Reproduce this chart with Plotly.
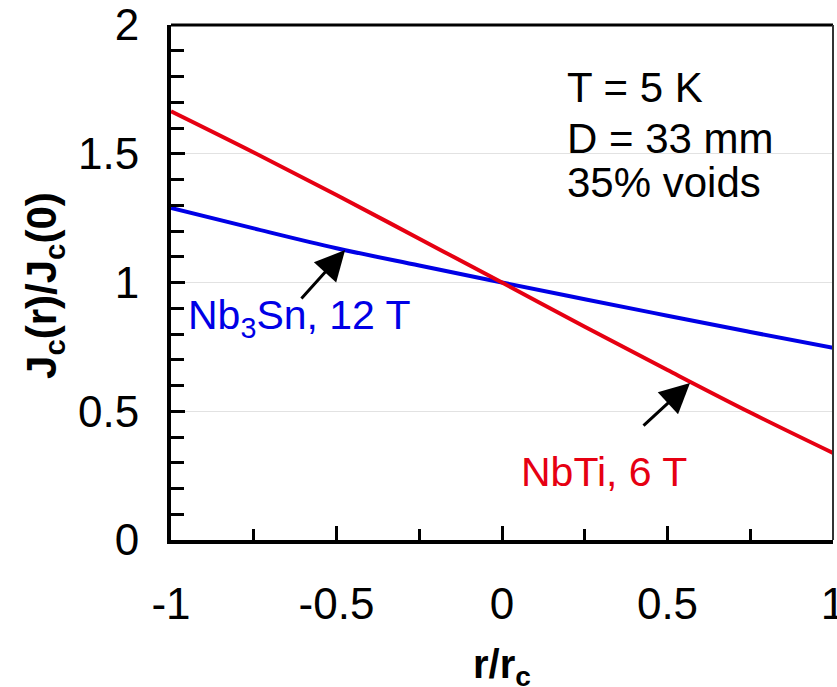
import plotly.graph_objects as go

r = [-1.0, -0.75, -0.5, -0.25, 0.0, 0.25, 0.5, 0.75, 1.0]
nbti_6T = [1.665, 1.505, 1.34, 1.17, 1.0, 0.828, 0.66, 0.495, 0.338]
nb3sn_12T = [1.29, 1.21, 1.133, 1.066, 1.0, 0.935, 0.871, 0.808, 0.746]

x_ticks = [-1, -0.5, 0, 0.5, 1]
x_ticklabels = ["-1", "-0.5", "0", "0.5", "1"]
y_ticks = [0, 0.5, 1, 1.5, 2]
y_ticklabels = ["0", "0.5", "1", "1.5", "2"]
info_lines = ["T = 5 K", "D = 33 mm", "35% voids"]

RED = "#e60012"
BLUE = "#0000e6"
FONT = "Liberation Sans, Arial, sans-serif"

fig = go.Figure()
fig.add_trace(go.Scatter(x=r, y=nb3sn_12T, mode="lines", line=dict(color=BLUE, width=4, shape="spline", smoothing=1),
                         showlegend=False))
fig.add_trace(go.Scatter(x=r, y=nbti_6T, mode="lines", line=dict(color=RED, width=4, shape="spline", smoothing=1),
                         showlegend=False))

fig.update_layout(
    width=837, height=687,
    margin=dict(l=171, r=4, t=25, b=147, autoexpand=False),
    paper_bgcolor="white", plot_bgcolor="white",
    font=dict(family=FONT, color="black"),
    showlegend=False,
)
fig.update_xaxes(
    range=[-1, 1], tickvals=x_ticks, ticktext=x_ticklabels, automargin=False,
    ticklabeloverflow="allow",
    showline=True, linecolor="black", linewidth=4,
    ticks="inside", ticklen=14, tickwidth=3, tickcolor="black",
    minor=dict(dtick=0.25, tick0=-1, ticks="inside", ticklen=11, tickwidth=3, tickcolor="black", showgrid=False),
    showgrid=False, zeroline=False,
    tickfont=dict(size=44, family=FONT), ticklabelstandoff=22,
)
fig.update_yaxes(
    range=[0, 2], tickvals=y_ticks, ticktext=y_ticklabels, automargin=False,
    ticklabeloverflow="allow",
    showline=True, linecolor="black", linewidth=4,
    ticks="inside", ticklen=14, tickwidth=3, tickcolor="black",
    minor=dict(dtick=0.1, tick0=0, ticks="inside", ticklen=13, tickwidth=3, tickcolor="black", showgrid=False),
    showgrid=True, gridcolor="#e2e2e2", gridwidth=1, zeroline=False,
    tickfont=dict(size=44, family=FONT), ticklabelstandoff=19,
)

# axis titles
fig.add_annotation(xref="paper", yref="paper", x=0.5, y=-0.2466, text="<b>r/r<sub>c</sub></b>", showarrow=False,
                   xanchor="center", yanchor="middle", font=dict(size=40, color="black", family=FONT))
fig.add_annotation(xref="paper", yref="paper", x=-0.192, y=0.495, text="<b>J<sub>c</sub>(r)/J<sub>c</sub>(0)</b>",
                   showarrow=False, textangle=-90, xanchor="center", yanchor="middle",
                   font=dict(size=42, color="black", family=FONT))

# top and right frame
fig.add_shape(type="line", xref="paper", yref="paper", x0=0, x1=1, y0=1, y1=1, line=dict(color="black", width=3))
fig.add_shape(type="line", xref="paper", yref="paper", x0=1, x1=1, y0=0, y1=1, line=dict(color="#333333", width=2))

# info text
info_y = [1.757, 1.56, 1.39]
for t, yy in zip(info_lines, info_y):
    fig.add_annotation(x=0.19, y=yy, xref="x", yref="y", text=t, showarrow=False,
                       xanchor="left", yanchor="middle", font=dict(size=42, color="black", family=FONT))

# labels
fig.add_annotation(x=-0.955, y=0.862, text="Nb<sub>3</sub>Sn, 12 T", showarrow=False, xanchor="left", yanchor="middle",
                   font=dict(size=41, color=BLUE, family=FONT))
fig.add_annotation(x=0.05, y=0.264, text="NbTi, 6 T", showarrow=False, xanchor="left", yanchor="middle",
                   font=dict(size=41, color=RED, family=FONT))

# arrows
fig.add_annotation(x=-0.474, y=1.126, ax=-0.61, ay=0.932, xref="x", yref="y", axref="x", ayref="y",
                   text="", showarrow=True, arrowhead=2, arrowsize=2, arrowwidth=3, arrowcolor="black")
fig.add_annotation(x=0.568, y=0.61, ax=0.423, ay=0.439, xref="x", yref="y", axref="x", ayref="y",
                   text="", showarrow=True, arrowhead=2, arrowsize=2, arrowwidth=3, arrowcolor="black")

fig.write_html("out.html", config={"displayModeBar": False},
               post_script="document.body.style.margin='0';document.body.style.overflow='hidden';")
